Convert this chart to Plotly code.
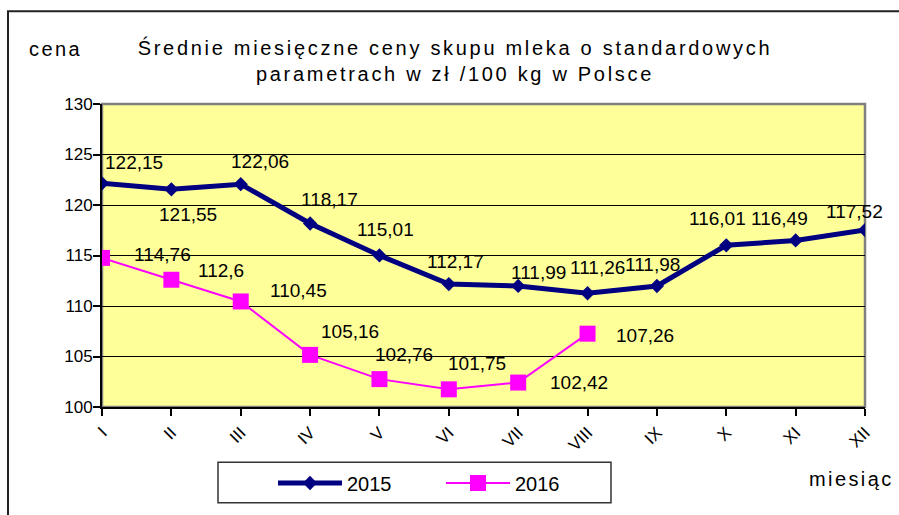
import plotly.graph_objects as go

months = ["I", "II", "III", "IV", "V", "VI", "VII", "VIII", "IX", "X", "XI", "XII"]
prices_2015 = [122.15, 121.55, 122.06, 118.17, 115.01, 112.17, 111.99, 111.26, 111.98, 116.01, 116.49, 117.52]
months_2016 = ["I", "II", "III", "IV", "V", "VI", "VII", "VIII"]
prices_2016 = [114.76, 112.6, 110.45, 105.16, 102.76, 101.75, 102.42, 107.26]
y_ticks = [100, 105, 110, 115, 120, 125, 130]

# label offsets in px (dx right, dy up) - styling only
off_2015 = [(32, 21), (17, -25), (19, 23), (19, 24), (6, 26), (7, 23), (20, 13), (10, 26), (-4, 22), (-9, 27), (-16, 22), (-11, 19)]
off_2016 = [(60, 3), (50, 9), (58, 11), (40, 23), (25, 25), (28, 26), (61, 0), (57, -2)]

FONT = "Liberation Sans, Arial, sans-serif"
NAVY = "#000080"
MAG = "#FF00FF"

W, H = 899, 515
L, R, T, B = 102, 865, 104, 411
pw, ph = R - L, B - T

def px(x):
    return (x - L) / pw

def py(y):
    return (B - y) / ph

def wide(s, sp=2.7):
    return '<span style="letter-spacing:%.1fpx">%s</span>' % (sp, s)

fig = go.Figure()
fig.add_trace(go.Scatter(
    x=months, y=prices_2015, name="2015", mode="lines+markers",
    line=dict(color=NAVY, width=5),
    marker=dict(symbol="diamond", size=11, color=NAVY),
))
fig.add_trace(go.Scatter(
    x=months_2016, y=prices_2016, name="2016", mode="lines+markers",
    line=dict(color=MAG, width=2),
    marker=dict(symbol="square", size=16, color=MAG),
))

def fmt(v):
    return ("%g" % v).replace(".", ",")

ann = []
for m, v, (dx, dy) in zip(months, prices_2015, off_2015):
    ann.append(dict(x=m, y=v, xref="x", yref="y", text=fmt(v), showarrow=False,
                    xshift=dx, yshift=dy, font=dict(size=19, color="#000000", family=FONT)))
for m, v, (dx, dy) in zip(months_2016, prices_2016, off_2016):
    ann.append(dict(x=m, y=v, xref="x", yref="y", text=fmt(v), showarrow=False,
                    xshift=dx, yshift=dy, font=dict(size=19, color="#000000", family=FONT)))

ann.append(dict(x=px(55), y=py(48), xref="paper", yref="paper", text=wide("cena", 2.4), showarrow=False,
                xanchor="center", yanchor="middle", font=dict(size=20, color="#000000", family=FONT)))
ann.append(dict(x=px(851), y=py(484), xref="paper", yref="paper", text=wide("miesiąc", 2.4), showarrow=False,
                xanchor="center", yanchor="middle", font=dict(size=20, color="#000000", family=FONT)))

shapes = [
    # outer frame
    dict(type="rect", xref="paper", yref="paper", x0=px(8), x1=px(905), y0=py(525), y1=py(10),
         line=dict(color="#222222", width=2), fillcolor="rgba(0,0,0,0)", layer="above"),
    # plot area grey border
    dict(type="rect", xref="paper", yref="paper", x0=0, x1=1, y0=0, y1=1,
         line=dict(color="#808080", width=2.5), fillcolor="rgba(0,0,0,0)", layer="below"),
    # legend box
    dict(type="rect", xref="paper", yref="paper", x0=px(218), x1=px(611), y0=py(508), y1=py(467),
         line=dict(color="#333333", width=1.5), fillcolor="rgba(0,0,0,0)", layer="above"),
]

title_txt = (wide("Średnie miesięczne ceny skupu mleka o standardowych", 2.7) + "<br>" +
             wide("parametrach w zł /100 kg w Polsce", 2.7))

fig.update_layout(
    width=W, height=H,
    margin=dict(l=L, r=W - R, t=T, b=H - B, pad=0),
    paper_bgcolor="white",
    plot_bgcolor="#FFFF99",
    font=dict(family=FONT, size=17, color="#000000"),
    title=dict(text=title_txt,
               x=455 / W, xref="container", xanchor="center", y=1 - 55 / H, yref="container", yanchor="middle",
               font=dict(size=20, color="#000000", family=FONT)),
    showlegend=True,
    legend=dict(orientation="h", x=px(273), y=py(488), xanchor="left", yanchor="middle",
                bgcolor="rgba(0,0,0,0)", borderwidth=0, entrywidth=89, entrywidthmode="pixels",
                itemwidth=64,
                font=dict(size=20, color="#000000", family=FONT)),
    annotations=ann,
    shapes=shapes,
)
fig.update_xaxes(
    type="category", categoryorder="array", categoryarray=months,
    range=[0, 11], showgrid=False, showline=True, linecolor="#000000", linewidth=2,
    ticks="outside", ticklen=7, tickcolor="#000000", tickwidth=1.5, tickangle=-45,
    tickfont=dict(size=17, color="#000000", family=FONT), zeroline=False,
)
fig.update_yaxes(
    range=[100, 130], tickvals=y_ticks, showgrid=True, gridcolor="#000000", gridwidth=1,
    showline=True, linecolor="#000000", linewidth=2, ticks="outside", ticklen=7,
    tickcolor="#000000", tickwidth=1.5, tickfont=dict(size=17, color="#000000", family=FONT),
    ticklabelstandoff=-3, zeroline=False,
)

fig.write_html("out.html", config={"displayModeBar": False},
               post_script="document.body.style.margin='0';document.body.style.overflow='hidden';")
